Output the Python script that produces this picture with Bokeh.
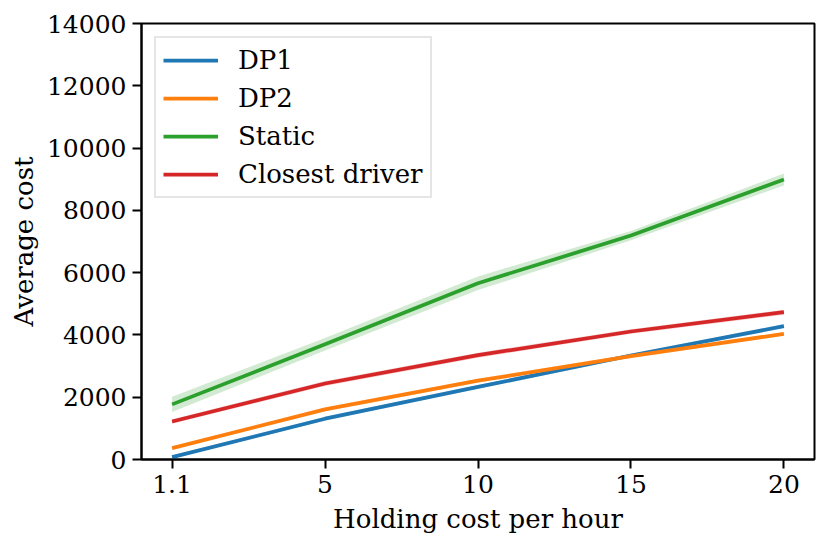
from bokeh.plotting import figure
from bokeh.models import FixedTicker, Legend, LegendItem
from bokeh.embed import file_html
from bokeh.resources import INLINE

# ---- data ----
categories = ["1.1", "5", "10", "15", "20"]
dp1 = [75, 1310, 2330, 3340, 4280]
dp2 = [365, 1610, 2530, 3320, 4035]
static = [1770, 3700, 5660, 7190, 8990]
closest = [1220, 2440, 3350, 4110, 4730]
dp1_ci = [50, 60, 60, 60, 60]
dp2_ci = [50, 60, 60, 60, 50]
static_ci = [245, 200, 220, 150, 190]
closest_ci = [70, 80, 80, 70, 80]
y_ticks = [0, 2000, 4000, 6000, 8000, 10000, 12000, 14000]

series = [
    ("DP1", dp1, dp1_ci, "#1f77b4"),
    ("DP2", dp2, dp2_ci, "#ff7f0e"),
    ("Static", static, static_ci, "#2ca02c"),
    ("Closest driver", closest, closest_ci, "#d62728"),
]

FONT = "DejaVu Serif"
TICK_FS = "25px"
LABEL_FS = "26px"

xs = list(range(len(categories)))

p = figure(
    frame_width=673, frame_height=436,
    x_range=(-0.2, 4.2), y_range=(0, 14000),
    output_backend="svg", toolbar_location=None,
    min_border_left=141, min_border_right=4,
    min_border_top=23, min_border_bottom=78,
)
p.background_fill_color = "white"
p.border_fill_color = "white"
p.grid.visible = False
p.outline_line_color = "black"
p.outline_line_width = 2

items = []
for name, vals, ci, color in series:
    lo = [v - c for v, c in zip(vals, ci)]
    hi = [v + c for v, c in zip(vals, ci)]
    p.varea(x=xs, y1=lo, y2=hi, fill_color=color, fill_alpha=0.22)
    r = p.line(x=xs, y=vals, line_color=color, line_width=3.75)
    items.append(LegendItem(label=name, renderers=[r]))

p.xaxis.ticker = FixedTicker(ticks=xs)
p.xaxis.major_label_overrides = {i: c for i, c in enumerate(categories)}
p.yaxis.ticker = FixedTicker(ticks=y_ticks)
p.yaxis.major_label_overrides = {t: str(t) for t in y_ticks}

for ax in (p.xaxis[0], p.yaxis[0]):
    ax.axis_line_color = "black"
    ax.axis_line_width = 2
    ax.major_tick_line_color = "black"
    ax.major_tick_line_width = 2
    ax.major_tick_out = 9
    ax.major_tick_in = 0
    ax.minor_tick_line_color = None
    ax.major_label_text_font = FONT
    ax.major_label_text_font_size = TICK_FS
    ax.major_label_text_color = "black"
    ax.axis_label_text_font = FONT
    ax.axis_label_text_font_size = LABEL_FS
    ax.axis_label_text_font_style = "normal"
    ax.axis_label_text_color = "black"
    ax.major_label_standoff = 6

p.xaxis.axis_label_standoff = 8
p.yaxis.axis_label_standoff = 5
p.xaxis.axis_label = "Holding cost per hour"
p.yaxis.axis_label = "Average cost"

legend = Legend(
    items=items, location="top_left",
    margin=13, padding=7, spacing=6,
    glyph_width=55, glyph_height=26, label_height=26,
    label_standoff=20,
    label_text_font=FONT, label_text_font_size=LABEL_FS, label_text_color="black",
    border_line_color="#cccccc", border_line_width=2,
    background_fill_color="white", background_fill_alpha=0.8,
)
legend.spacing = 8
p.add_layout(legend, "center")

open("out.html", "w").write(file_html(p, INLINE))
